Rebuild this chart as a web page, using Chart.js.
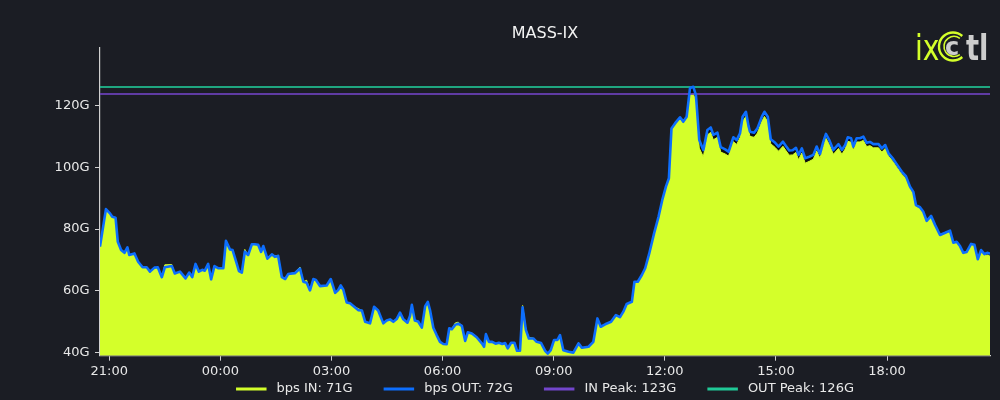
<!DOCTYPE html>
<html><head><meta charset="utf-8">
<script src="https://cdn.jsdelivr.net/npm/chart.js@4"></script>
<style>html,body{margin:0;padding:0;background:#1b1d24;}canvas{display:block;}</style>
</head><body>
<canvas id="c" width="1000" height="400"></canvas>
<script>
const chartTitle = 'MASS-IX';
// hours after 21:00
const hours = [-0.25,-0.09,0.02,0.08,0.17,0.23,0.32,0.41,0.49,0.54,0.68,0.78,0.90,1.01,1.10,1.22,1.31,1.42,1.50,1.69,1.77,1.91,2.06,2.16,2.24,2.33,2.42,2.51,2.58,2.67,2.75,2.84,2.94,3.08,3.15,3.26,3.33,3.44,3.50,3.58,3.66,3.75,3.85,3.93,4.02,4.10,4.16,4.27,4.39,4.47,4.56,4.66,4.75,4.83,5.01,5.15,5.24,5.33,5.42,5.51,5.58,5.69,5.87,5.98,6.10,6.18,6.25,6.32,6.41,6.50,6.59,6.72,6.82,6.91,7.04,7.15,7.26,7.40,7.49,7.58,7.67,7.76,7.85,7.94,8.05,8.12,8.17,8.25,8.34,8.44,8.53,8.60,8.66,8.75,8.84,8.93,9.02,9.11,9.18,9.25,9.34,9.42,9.52,9.61,9.68,9.79,9.92,10.06,10.12,10.17,10.25,10.34,10.43,10.52,10.61,10.69,10.76,10.85,10.94,11.01,11.09,11.16,11.25,11.33,11.45,11.54,11.66,11.77,11.84,11.92,12.01,12.10,12.17,12.26,12.40,12.53,12.67,12.76,12.94,13.07,13.18,13.27,13.39,13.55,13.68,13.79,13.88,13.97,14.11,14.18,14.27,14.38,14.47,14.58,14.71,14.83,14.93,15.03,15.11,15.18,15.28,15.41,15.50,15.59,15.68,15.77,15.84,15.93,16.04,16.15,16.24,16.31,16.42,16.51,16.63,16.72,16.85,16.94,17.03,17.10,17.19,17.26,17.30,17.41,17.50,17.62,17.69,17.78,17.86,17.98,18.07,18.19,18.27,18.36,18.45,18.54,18.61,18.70,18.79,18.90,19.01,19.10,19.19,19.28,19.35,19.44,19.55,19.69,19.78,19.87,19.94,20.03,20.09,20.18,20.27,20.36,20.45,20.54,20.63,20.77,20.86,20.95,21.04,21.17,21.26,21.40,21.51,21.62,21.71,21.78,21.89,21.98,22.07,22.19,22.30,22.43,22.57,22.70,22.79,22.88,22.97,23.06,23.15,23.27,23.36,23.45,23.54,23.63,23.72,23.78];
const bpsOut = [74.3,86.5,85.1,84.0,83.7,75.9,73.2,72.3,74.1,71.6,72.1,69.4,67.6,67.6,66.2,67.5,67.6,64.4,67.6,68.0,65.6,66.2,64.0,65.9,64.4,68.7,66.2,66.8,66.5,68.7,63.7,68.0,67.3,67.3,76.2,73.4,73.2,68.9,66.4,65.9,72.7,71.6,75.1,75.1,74.9,72.6,74.5,70.4,71.8,71.0,71.3,64.4,63.8,65.4,65.7,67.2,62.9,62.6,60.1,63.8,63.5,61.5,61.7,63.8,59.3,60.2,61.7,60.3,56.2,55.9,55.0,53.7,53.6,49.9,49.4,54.8,53.6,49.4,50.3,50.7,49.9,50.8,52.9,50.7,49.6,51.8,55.4,50.3,50.0,48.0,55.0,56.4,53.7,48.0,45.6,43.4,42.7,42.6,47.8,47.5,48.9,49.3,48.6,43.7,46.5,46.1,44.9,42.9,41.8,45.9,43.4,43.4,42.8,43.1,42.7,43.0,41.3,43.1,43.1,40.5,40.5,54.6,47.2,44.5,44.5,43.4,43.0,40.5,39.6,40.7,44.0,44.0,45.6,40.7,40.2,39.9,42.9,41.5,41.8,43.4,51.0,48.3,49.1,49.9,52.1,51.4,53.2,55.7,56.4,62.9,62.9,65.1,67.3,72.1,78.6,84.0,89.4,93.8,96.5,112.7,114.4,116.3,114.9,116.5,125.8,126.2,123.5,108.9,105.7,112.2,113.0,110.6,111.3,106.6,105.9,105.1,109.8,108.9,111.1,116.5,118.1,113.5,111.6,111.3,112.7,116.5,118.1,116.5,109.2,108.0,106.8,108.4,107.0,105.5,105.6,106.4,104.1,106.2,103.0,103.5,104.1,106.8,104.4,108.4,110.9,108.9,105.7,107.6,105.7,107.3,109.8,109.5,106.8,109.5,109.5,110.0,108.0,108.3,107.6,107.6,106.2,107.3,104.6,102.7,101.1,98.6,97.2,93.8,92.1,87.8,87.1,85.6,82.7,84.3,81.3,78.1,78.8,79.5,75.6,75.9,74.5,72.3,72.6,75.2,74.9,70.2,73.2,71.9,72.3,72.0];
const bpsIn = [74.0,86.2,84.9,83.8,83.5,75.7,73.0,72.2,73.9,71.5,71.9,69.3,67.5,67.5,66.1,67.4,67.6,64.3,68.4,68.5,65.6,66.2,64.0,65.8,64.3,68.5,66.1,66.7,66.5,69.0,63.7,68.0,67.3,67.5,76.0,73.2,73.1,68.8,66.3,65.8,73.4,71.5,75.0,75.0,74.8,72.5,74.4,70.3,71.8,71.3,71.5,64.3,63.7,65.4,65.9,67.7,62.9,63.4,60.1,63.7,63.4,61.5,61.7,63.7,59.3,60.2,61.6,60.2,56.2,55.9,55.0,54.2,53.6,49.9,49.4,54.6,53.5,49.4,50.3,50.7,49.9,50.8,52.8,50.7,49.6,51.7,55.2,50.3,50.0,48.0,54.8,56.2,53.6,48.0,45.6,43.4,42.7,42.6,47.8,47.6,49.5,49.8,48.7,43.7,46.5,46.2,45.1,42.9,41.8,45.8,43.4,43.5,42.8,43.1,42.7,43.0,41.3,43.1,43.1,40.5,40.5,55.2,47.4,44.8,44.6,43.4,43.0,40.5,39.6,40.7,44.0,44.0,45.6,40.7,40.2,39.9,43.2,41.5,41.8,43.4,50.8,48.3,49.1,49.9,52.1,51.4,53.2,55.6,56.3,62.8,62.8,65.0,67.2,72.0,78.5,83.9,89.2,93.6,96.3,112.3,114.0,115.8,114.4,116.0,123.5,123.9,121.5,106.3,103.5,110.6,111.4,109.0,109.8,105.0,104.4,103.7,108.4,107.5,109.7,115.0,116.6,112.0,110.1,109.8,111.2,115.0,116.6,114.9,107.7,106.5,105.3,106.9,105.5,104.0,104.1,104.9,102.5,104.7,101.4,102.0,102.7,105.4,103.0,107.0,109.5,107.5,104.3,106.2,104.3,106.0,108.5,108.2,105.6,108.3,108.3,108.8,106.8,107.1,106.4,106.4,105.0,106.2,103.7,101.8,100.2,97.8,96.4,93.1,91.5,87.4,86.7,85.3,82.5,84.1,81.1,77.9,78.6,79.3,75.4,75.7,74.3,72.1,72.4,75.0,74.7,70.0,72.8,71.4,71.6,71.2];
const peakIn = 123.9;
const peakOut = 126.1;
const seriesLabels = ['bps IN: 71G', 'bps OUT: 72G', 'IN Peak: 123G', 'OUT Peak: 126G'];
const xTickHours = [0, 3, 6, 9, 12, 15, 18, 21];
const xTickLabels = ['21:00', '00:00', '03:00', '06:00', '09:00', '12:00', '15:00', '18:00'];
const yTickValues = [40, 60, 80, 100, 120];
const xRange = [-0.25, 23.78];
const yRange = [38.9, 138.9];

const C = {
  bg: '#1b1d24', inFill: '#d4ff2a', out: '#0d6efd', shadow: '#0c0d10',
  inPeak: 'rgba(111,66,193,0.82)', outPeak: 'rgba(32,201,151,0.8)',
  inPeakLegend: '#7346cc', outPeakLegend: '#20c997', text: '#e8e8e8', axis: '#d0d0d0'
};
const FONT = '"DejaVu Sans", "Liberation Sans", sans-serif';

const pts = vals => hours.map((h, i) => ({x: h, y: vals[i]}));
const flat = v => [{x: xRange[0], y: v}, {x: xRange[1], y: v}];

const bgPlugin = {
  id: 'bg',
  beforeDraw(chart) {
    const ctx = chart.ctx;
    ctx.save(); ctx.fillStyle = C.bg; ctx.fillRect(0, 0, chart.width, chart.height); ctx.restore();
  }
};

// legend drawn from the datasets' labels and colours, centred under the plot area
const legendPlugin = {
  id: 'lineLegend',
  afterDraw(chart) {
    const ctx = chart.ctx;
    const items = chart.data.datasets.filter(ds => ds.label);
    const sw = 30.5, gap = 10, spacing = 31, y = 389;
    ctx.save();
    ctx.font = '13px ' + FONT;
    ctx.textBaseline = 'middle';
    ctx.textAlign = 'left';
    const widths = items.map(ds => ctx.measureText(ds.label).width);
    const total = widths.reduce((a, w) => a + sw + gap + w, 0) + spacing * (items.length - 1);
    const ca = chart.chartArea;
    let x = (ca.left + ca.right) / 2 - total / 2;
    items.forEach((ds, i) => {
      ctx.fillStyle = ds.legendColor;
      ctx.fillRect(x, y - 1.5, sw, 3);
      ctx.fillStyle = C.text;
      ctx.fillText(ds.label, x + sw + gap, y);
      x += sw + gap + widths[i] + spacing;
    });
    ctx.restore();
  }
};

const logoPlugin = {
  id: 'logo',
  afterDraw(chart) {
    const ctx = chart.ctx;
    ctx.save();
    ctx.textBaseline = 'alphabetic';
    ctx.fillStyle = C.inFill;
    ctx.save(); ctx.translate(915, 59.5); ctx.scale(0.78, 1);
    ctx.font = '36px ' + FONT; ctx.fillText('ix', 0, 0); ctx.restore();
    ctx.strokeStyle = C.inFill; ctx.lineWidth = 2.4;
    ctx.beginPath(); ctx.arc(953, 46.5, 14, 0.27 * Math.PI, 1.73 * Math.PI); ctx.stroke();
    ctx.lineWidth = 1.6;
    ctx.beginPath(); ctx.arc(954, 46.5, 10, 0.3 * Math.PI, 1.7 * Math.PI); ctx.stroke();
    ctx.fillStyle = '#cdcdcd';
    ctx.font = 'bold 24px ' + FONT; ctx.fillText('c', 945, 55);
    ctx.save(); ctx.translate(966, 59.5); ctx.scale(0.76, 1);
    ctx.font = 'bold 36px ' + FONT; ctx.fillText('tl', 0, 0); ctx.restore();
    ctx.restore();
  }
};

new Chart(document.getElementById('c'), {
  type: 'line',
  data: {
    datasets: [
      {label: seriesLabels[0], data: pts(bpsIn), borderColor: C.inFill, backgroundColor: C.inFill, legendColor: C.inFill,
       borderWidth: 1, fill: 'start', pointRadius: 0, tension: 0, order: 4},
      {label: seriesLabels[1], data: pts(bpsOut), borderColor: C.out, backgroundColor: C.out, legendColor: C.out,
       borderWidth: 2.6, fill: false, pointRadius: 0, tension: 0, order: 1, borderJoinStyle: 'round'},
      {label: seriesLabels[2], data: flat(peakIn), borderColor: C.inPeak, legendColor: C.inPeakLegend,
       borderWidth: 2, fill: false, pointRadius: 0, order: 3},
      {label: seriesLabels[3], data: flat(peakOut), borderColor: C.outPeak, legendColor: C.outPeakLegend,
       borderWidth: 2, fill: false, pointRadius: 0, order: 2},
      {label: '', data: pts(bpsOut), borderWidth: 0, borderColor: 'rgba(0,0,0,0)', backgroundColor: C.shadow,
       fill: 'start', pointRadius: 0, tension: 0, order: 5}
    ]
  },
  options: {
    responsive: false,
    animation: false,
    devicePixelRatio: 1,
    layout: {padding: {left: 0, right: 10, top: 0, bottom: 0}},
    plugins: {
      tooltip: {enabled: false},
      legend: {display: false},
      title: {
        display: true, fullSize: false, text: chartTitle, color: '#f2f2f2',
        font: {family: FONT, size: 16, weight: 'normal'},
        padding: {top: 24.1, bottom: 4.4}
      }
    },
    scales: {
      x: {
        type: 'linear', min: xRange[0], max: xRange[1],
        afterFit(scale) { scale.height = 44.3; },
        afterBuildTicks(scale) { scale.ticks = xTickHours.map(v => ({value: v})); },
        ticks: {
          color: C.text, font: {family: FONT, size: 13}, padding: 3, maxRotation: 0, autoSkip: false,
          callback: (v, i) => xTickLabels[i]
        },
        grid: {display: true, drawOnChartArea: false, drawTicks: true, tickLength: 5, color: C.axis, lineWidth: 1},
        border: {display: true, color: C.axis, width: 1.2}
      },
      y: {
        type: 'linear', min: yRange[0], max: yRange[1],
        afterFit(scale) { scale.width = 100; },
        afterBuildTicks(scale) { scale.ticks = yTickValues.map(v => ({value: v})); },
        ticks: {
          color: C.text, font: {family: FONT, size: 13}, padding: 5.5, autoSkip: false,
          callback: v => v + 'G'
        },
        grid: {display: true, drawOnChartArea: false, drawTicks: true, tickLength: 5, color: C.axis, lineWidth: 1},
        border: {display: true, color: C.axis, width: 1.2}
      }
    }
  },
  plugins: [bgPlugin, legendPlugin, logoPlugin]
});
</script>
</body></html>
